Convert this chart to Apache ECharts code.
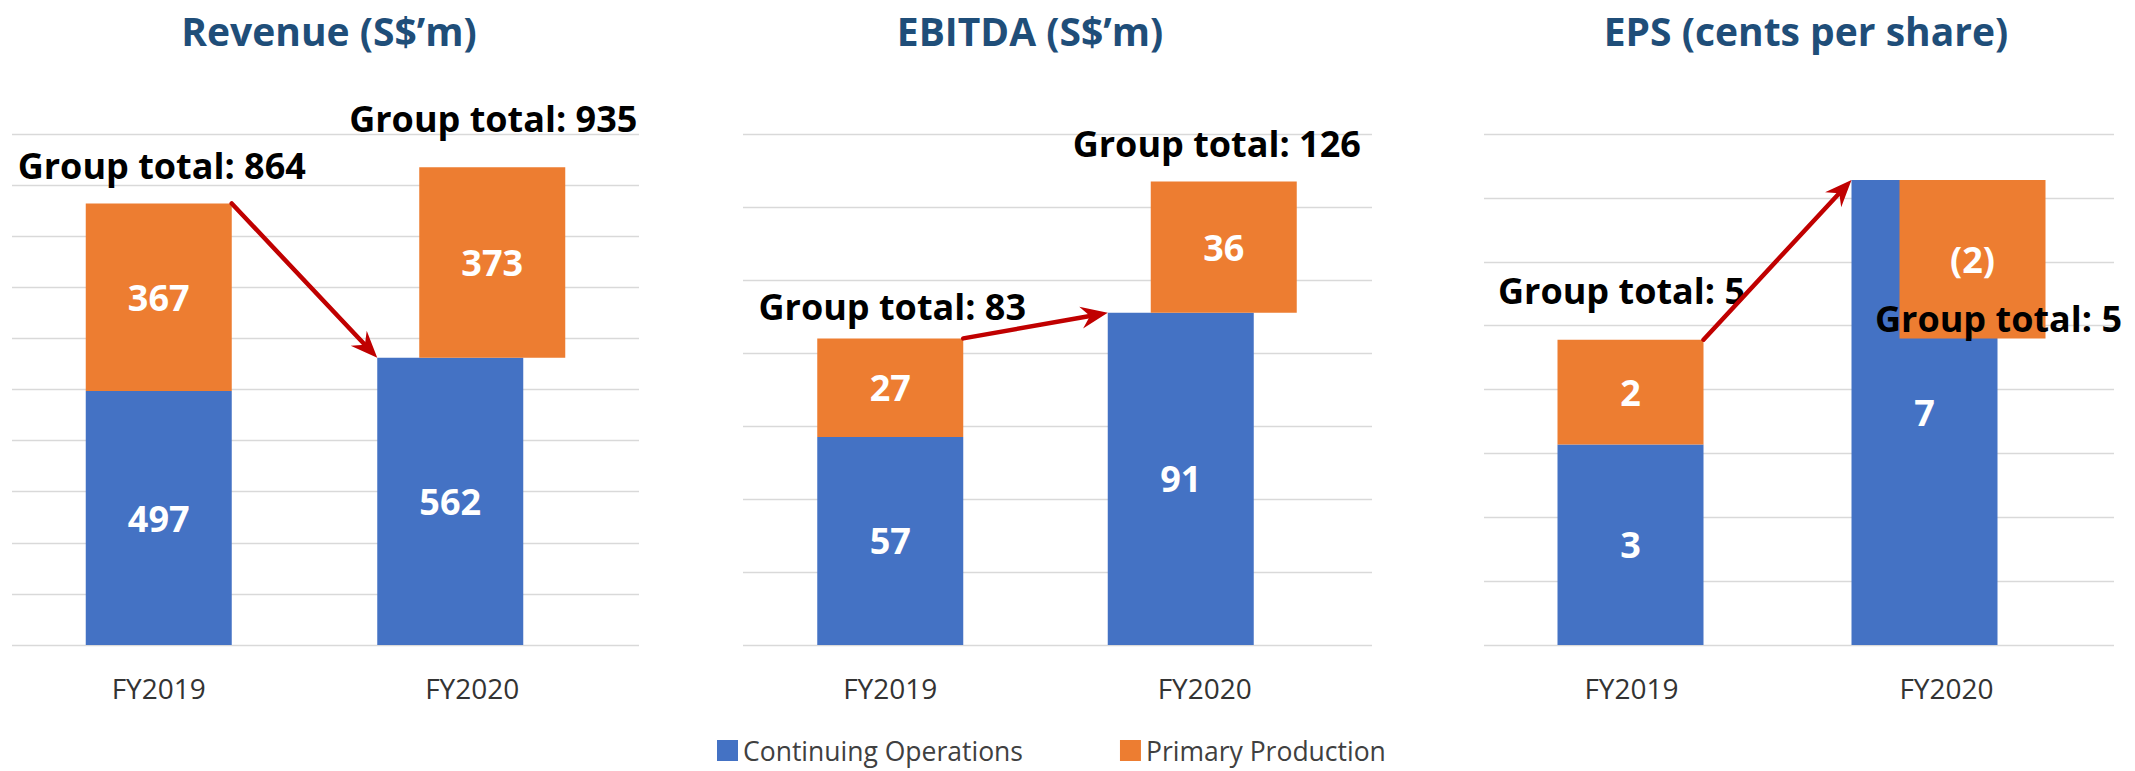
<!DOCTYPE html>
<html>
<head>
<meta charset="utf-8">
<script src="https://cdn.jsdelivr.net/npm/echarts@6/dist/echarts.min.js"></script>
<style>
html,body{margin:0;padding:0;background:#ffffff;}
#chart{width:2135px;height:771px;}
</style>
</head>
<body>
<div id="chart"></div>
<script>
// ---------------- data ----------------
const categories = ['FY2019', 'FY2020'];
const seriesNames = ['Continuing Operations', 'Primary Production'];

const revenueContinuing = [497, 562];
const revenuePrimary = [367, 373];
const revenueTotals = [864, 935];

const ebitdaContinuing = [57, 91];
const ebitdaPrimary = [27, 36];
const ebitdaTotals = [83, 126];

const epsContinuing = [3.14, 7.28];
const epsPrimary = [1.64, -2.48];
const epsTotals = [5, 5];

const panelTitles = ['Revenue (S$\u2019m)', 'EBITDA (S$\u2019m)', 'EPS (cents per share)'];

// ---------------- layout / style ----------------
const BLUE = '#4472C4', ORANGE = '#ED7D31', ARROW = '#C00000', TITLE = '#1F4E79';
const FONT = '"Open Sans", "Noto Sans", sans-serif';
const BAR_W = 146;
const GRID_TOP = 134, GRID_H = 511;

const panels = [
  { title: panelTitles[0], cont: revenueContinuing, prim: revenuePrimary, totals: revenueTotals,
    gridLeft: 12, gridWidth: 627, max: 1000, interval: 100, titleX: 329,
    contOffset: [-10, -32], primOffset: [-10, 10], totalOffset: [[-7, -38], [11, -49]] },
  { title: panelTitles[1], cont: ebitdaContinuing, prim: ebitdaPrimary, totals: ebitdaTotals,
    gridLeft: 743, gridWidth: 629, max: 140, interval: 20, titleX: 1030,
    contOffset: [-10, -34], primOffset: [-10, 9], totalOffset: [[-8, -32], [2, -38]] },
  { title: panelTitles[2], cont: epsContinuing, prim: epsPrimary, totals: epsTotals,
    gridLeft: 1484, gridWidth: 630, max: 8, interval: 1, titleX: 1806,
    contOffset: [-11, -32], primOffset: [-11, 16], totalOffset: [[-20, -49], [42, -20]] }
];

function fmt(v) {
  const r = Math.round(Math.abs(v));
  return v < 0 ? '(' + r + ')' : String(r);
}

function barRenderer(offsets, color) {
  return function (params, api) {
    const i = api.value(0);
    const p0 = api.coord([i, api.value(1)]);
    const p1 = api.coord([i, api.value(2)]);
    const cx = p0[0] + offsets[i];
    const y = Math.min(p0[1], p1[1]);
    const h = Math.abs(p1[1] - p0[1]);
    return {
      type: 'group',
      children: [
        { type: 'rect', shape: { x: cx - BAR_W / 2, y: y, width: BAR_W, height: h },
          style: { fill: color } },
        { type: 'text', style: { text: fmt(api.value(3)), x: cx, y: y + h / 2,
            align: 'center', verticalAlign: 'middle', fill: '#ffffff',
            fontSize: 36, fontWeight: 'bold', fontFamily: FONT } }
      ]
    };
  };
}

function totalRenderer(offsets) {
  return function (params, api) {
    const i = api.value(0);
    const p = api.coord([i, api.value(1)]);
    return {
      type: 'text',
      style: { text: 'Group total: ' + api.value(2), x: p[0] + offsets[i][0], y: p[1] + offsets[i][1],
        align: 'center', verticalAlign: 'middle', fill: '#000000',
        fontSize: 36, fontWeight: 'bold', fontFamily: FONT }
    };
  };
}

function arrowRenderer(contOffset, primOffset) {
  return function (params, api) {
    const a = api.coord([api.value(0), api.value(1)]);
    const b = api.coord([api.value(2), api.value(3)]);
    const sx = a[0] + Math.max(contOffset[0], primOffset[0]) + BAR_W / 2, sy = a[1];
    const ex = b[0] + contOffset[1] - BAR_W / 2, ey = b[1];
    const dx = ex - sx, dy = ey - sy, len = Math.sqrt(dx * dx + dy * dy);
    const ux = dx / len, uy = dy / len, nx = -uy, ny = ux;
    const L = 27, W = 11, N = 9;
    const bx = ex - ux * L, by = ey - uy * L;
    const mx = ex - ux * (L - N), my = ey - uy * (L - N);
    return {
      type: 'group',
      children: [
        { type: 'line', shape: { x1: sx, y1: sy, x2: mx, y2: my },
          style: { stroke: ARROW, lineWidth: 4.5, lineCap: 'round' } },
        { type: 'polygon', shape: { points: [[ex, ey], [bx + nx * W, by + ny * W], [mx, my], [bx - nx * W, by - ny * W]] },
          style: { fill: ARROW } }
      ]
    };
  };
}

const grids = [], xAxes = [], yAxes = [], series = [], titles = [];
panels.forEach(function (p, k) {
  grids.push({ left: p.gridLeft, width: p.gridWidth, top: GRID_TOP, height: GRID_H });
  xAxes.push({
    type: 'category', gridIndex: k, data: categories,
    axisLine: { show: false }, axisTick: { show: false },
    axisLabel: { color: '#333333', fontSize: 28, fontFamily: FONT, margin: 28, lineHeight: 30,
      padding: [0, 20, 0, 0] }
  });
  yAxes.push({
    type: 'value', gridIndex: k, min: 0, max: p.max, interval: p.interval,
    axisLabel: { show: false }, axisLine: { show: false }, axisTick: { show: false },
    splitLine: { lineStyle: { color: '#D9D9D9', width: 1.3 } }
  });
  titles.push({
    text: p.title, left: p.titleX - 5, top: 5, textAlign: 'center',
    textStyle: { color: TITLE, fontSize: 39, fontWeight: 'bold', fontFamily: FONT, lineHeight: 40 }
  });
  const contData = categories.map(function (c, i) { return [i, 0, p.cont[i], p.cont[i]]; });
  const primData = categories.map(function (c, i) {
    return [i, p.cont[i], p.cont[i] + p.prim[i], p.prim[i]];
  });
  const totalData = categories.map(function (c, i) {
    return [i, p.cont[i] + p.prim[i], p.totals[i]];
  });
  series.push({
    type: 'custom', name: seriesNames[0], xAxisIndex: k, yAxisIndex: k,
    itemStyle: { color: BLUE }, encode: { x: 0, y: [1, 2] },
    renderItem: barRenderer(p.contOffset, BLUE), data: contData, silent: true
  });
  series.push({
    type: 'custom', name: seriesNames[1], xAxisIndex: k, yAxisIndex: k,
    itemStyle: { color: ORANGE }, encode: { x: 0, y: [1, 2] },
    renderItem: barRenderer(p.primOffset, ORANGE), data: primData, silent: true
  });
  series.push({
    type: 'custom', name: 'totals' + k, xAxisIndex: k, yAxisIndex: k,
    encode: { x: 0, y: 1 }, renderItem: totalRenderer(p.totalOffset), data: totalData, silent: true
  });
  series.push({
    type: 'custom', name: 'arrow' + k, xAxisIndex: k, yAxisIndex: k,
    encode: { x: [0, 2], y: [1, 3] }, renderItem: arrowRenderer(p.contOffset, p.primOffset),
    data: [[0, p.cont[0] + p.prim[0], 1, p.cont[1]]], silent: true
  });
});

const chart = echarts.init(document.getElementById('chart'), null, { renderer: 'svg' });
chart.setOption({
  backgroundColor: '#ffffff',
  animation: false,
  title: titles,
  grid: grids,
  xAxis: xAxes,
  yAxis: yAxes,
  legend: {
    data: seriesNames, left: 712, top: 732, icon: 'rect',
    itemWidth: 21, itemHeight: 21, itemGap: 97,
    textStyle: { fontSize: 26.5, color: '#404040', fontFamily: FONT }
  },
  series: series
});
</script>
</body>
</html>
